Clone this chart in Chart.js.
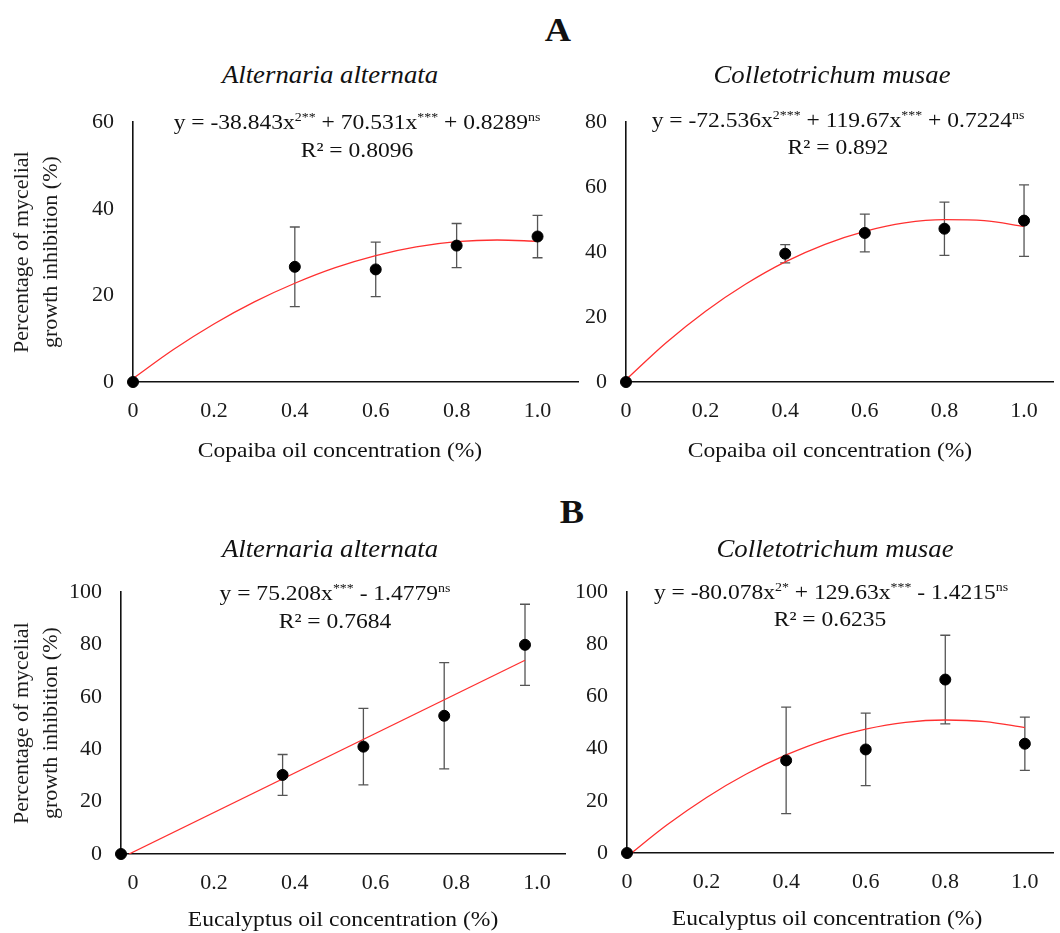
<!DOCTYPE html>
<html>
<head>
<meta charset="utf-8">
<script src="https://cdn.jsdelivr.net/npm/chart.js@4.4.1/dist/chart.umd.min.js"></script>
<style>
body { margin: 0; background: #fff; }
#page { position: relative; width: 1060px; height: 933px; overflow: hidden; font-family: "Liberation Serif", "Times New Roman", serif; color: #111; }
canvas { position: absolute; }
.lbl { position: absolute; white-space: nowrap; transform: translate(-50%, -50%) scaleX(1.07); }
.big { font-size: 34px; font-weight: bold; }
.ttl { font-size: 25px; font-style: italic; }
.eq { font-size: 22px; }
.eq sup { font-size: 13px; vertical-align: 8px; line-height: 0; }
.xt { font-size: 22px; }
</style>
</head>
<body>
<div id="page">
  <canvas id="cA1" width="600" height="380" style="left:0px;top:90px"></canvas>
  <canvas id="cA2" width="500" height="380" style="left:560px;top:90px"></canvas>
  <canvas id="cB1" width="600" height="373" style="left:0px;top:560px"></canvas>
  <canvas id="cB2" width="500" height="373" style="left:560px;top:560px"></canvas>

  <div class="lbl big" style="left:558px;top:30px">A</div>
  <div class="lbl big" style="left:572px;top:512px">B</div>

  <div class="lbl ttl" style="left:330px;top:75px">Alternaria alternata</div>
  <div class="lbl ttl" style="left:832px;top:75px">Colletotrichum musae</div>
  <div class="lbl ttl" style="left:330px;top:549px">Alternaria alternata</div>
  <div class="lbl ttl" style="left:835px;top:549px">Colletotrichum musae</div>

  <div class="lbl eq" style="left:357px;top:122px">y = -38.843x<sup>2**</sup> + 70.531x<sup>***</sup> + 0.8289<sup>ns</sup></div>
  <div class="lbl eq" style="left:357px;top:150px">R² = 0.8096</div>
  <div class="lbl eq" style="left:838px;top:120px">y = -72.536x<sup>2***</sup> + 119.67x<sup>***</sup> + 0.7224<sup>ns</sup></div>
  <div class="lbl eq" style="left:838px;top:147px">R² = 0.892</div>
  <div class="lbl eq" style="left:335px;top:593px">y = 75.208x<sup>***</sup> - 1.4779<sup>ns</sup></div>
  <div class="lbl eq" style="left:335px;top:621px">R² = 0.7684</div>
  <div class="lbl eq" style="left:831px;top:592px">y = -80.078x<sup>2*</sup> + 129.63x<sup>***</sup> - 1.4215<sup>ns</sup></div>
  <div class="lbl eq" style="left:830px;top:619px">R² = 0.6235</div>

  <div class="lbl xt" style="left:340px;top:450px">Copaiba oil concentration (%)</div>
  <div class="lbl xt" style="left:830px;top:450px">Copaiba oil concentration (%)</div>
  <div class="lbl xt" style="left:343px;top:919px">Eucalyptus oil concentration (%)</div>
  <div class="lbl xt" style="left:827px;top:918px">Eucalyptus oil concentration (%)</div>
</div>

<script>
// concentrations (%) and where the points sit on the x axis
const conc = [0, 0.4, 0.6, 0.8, 1.0];
const concEucAlt = [-0.03, 0.37, 0.57, 0.77, 0.97]; // panel B left is drawn shifted in the original

// mean inhibition (%) and error bar half-length
const copAlt = [0, 26.6, 26.0, 31.5, 33.6];
const copAltErr = [0, 9.2, 6.3, 5.1, 4.9];
const copCol = [0, 39.5, 45.9, 47.2, 49.7];
const copColErr = [0, 2.8, 5.8, 8.2, 11.0];
const eucAlt = [0, 30.2, 41.0, 52.8, 79.9];
const eucAltErr = [0, 7.8, 14.6, 20.3, 15.5];
const eucCol = [0, 35.5, 39.7, 66.5, 41.9];
const eucColErr = [0, 20.4, 13.9, 17.0, 10.2];

// fitted curves
const fitX = [0, 0.1, 0.2, 0.3, 0.4, 0.5, 0.6, 0.7, 0.8, 0.9, 1.0];
const fitCopAlt = [0.8, 7.5, 13.4, 18.5, 22.8, 26.4, 29.2, 31.2, 32.4, 32.8, 32.5];
const fitCopCol = [0.7, 12.0, 21.8, 30.1, 37.0, 42.4, 46.4, 49.0, 50.0, 49.7, 47.9];
const fitEucAltX = [-0.01, 0.97];
const fitEucAlt = [0, 74.0];
const fitEucCol = [-1.4, 10.7, 21.3, 30.3, 37.6, 43.4, 47.5, 50.1, 51.0, 50.4, 48.1];

// tick labels
const xTicks = [0, 0.2, 0.4, 0.6, 0.8, 1.0];
const xTickText = ['0', '0.2', '0.4', '0.6', '0.8', '1.0'];
const yTicks60 = [0, 20, 40, 60];
const yTicks80 = [0, 20, 40, 60, 80];
const yTicks100 = [0, 20, 40, 60, 80, 100];
const yTitle = ['Percentage of mycelial', 'growth inhibition (%)'];

const FONT = 'Liberation Serif';

// draw the vertical error bars under the datasets
const errorBars = {
  id: 'errorBars',
  beforeDatasetsDraw(chart) {
    const ctx = chart.ctx;
    const ys = chart.scales.y;
    chart.data.datasets.forEach((ds, i) => {
      if (!ds.errors) return;
      const meta = chart.getDatasetMeta(i);
      ctx.save();
      ctx.strokeStyle = '#555';
      ctx.lineWidth = 1.3;
      meta.data.forEach((pt, j) => {
        const e = ds.errors[j];
        if (!e) return;
        const v = ds.data[j].y;
        const top = ys.getPixelForValue(v + e);
        const bot = ys.getPixelForValue(v - e);
        ctx.beginPath();
        ctx.moveTo(pt.x, top); ctx.lineTo(pt.x, bot);
        ctx.moveTo(pt.x - 5, top); ctx.lineTo(pt.x + 5, top);
        ctx.moveTo(pt.x - 5, bot); ctx.lineTo(pt.x + 5, bot);
        ctx.stroke();
      });
      ctx.restore();
    });
  }
};

function panel(id, o) {
  const ctx = document.getElementById(id).getContext('2d');
  return new Chart(ctx, {
    type: 'scatter',
    data: {
      datasets: [
        {
          data: o.px.map((x, i) => ({x: x, y: o.py[i]})),
          errors: o.err,
          backgroundColor: '#000',
          borderColor: '#000',
          pointRadius: 5.5,
          pointHoverRadius: 5.5,
          clip: false
        },
        {
          data: o.fx.map((x, i) => ({x: x, y: o.fy[i]})),
          showLine: true,
          borderColor: '#ff3030',
          borderWidth: 1.3,
          pointRadius: 0,
          tension: 0.4,
          cubicInterpolationMode: 'monotone'
        }
      ]
    },
    options: {
      responsive: false,
      animation: false,
      events: [],
      layout: { padding: { left: 0, top: 17, right: o.pr, bottom: 0 } },
      plugins: { legend: { display: false }, tooltip: { enabled: false } },
      scales: {
        x: {
          type: 'linear',
          min: o.xmin,
          max: o.xmax,
          afterBuildTicks: s => { s.ticks = xTicks.map(v => ({value: v})); },
          afterFit: s => { s.height = o.xh; },
          grid: { display: false, drawTicks: false },
          border: { display: true, color: '#111', width: 1.6 },
          ticks: {
            padding: 16,
            color: '#1a1a1a',
            font: { family: FONT, size: 22 },
            callback: (v, i) => xTickText[i]
          }
        },
        y: {
          min: 0,
          max: o.yTicks[o.yTicks.length - 1],
          afterBuildTicks: s => { s.ticks = o.yTicks.map(v => ({value: v})); },
          afterFit: s => { s.width = o.yw; },
          grid: { display: false, drawTicks: false },
          border: { display: true, color: '#111', width: 1.6 },
          ticks: {
            padding: 19,
            color: '#1a1a1a',
            font: { family: FONT, size: 22 },
            callback: v => String(v)
          },
          title: {
            display: o.showTitle,
            text: yTitle,
            color: '#1a1a1a',
            padding: { top: 8, bottom: 0 },
            font: { family: FONT, size: 22, lineHeight: 1.3 }
          }
        }
      }
    },
    plugins: [errorBars]
  });
}

panel('cA1', { px: conc, py: copAlt, err: copAltErr, fx: fitX, fy: fitCopAlt,
  xmin: 0, xmax: 1.10, yTicks: yTicks60, yw: 133, xh: 88, pr: 22, showTitle: true });
panel('cA2', { px: conc, py: copCol, err: copColErr, fx: fitX, fy: fitCopCol,
  xmin: 0, xmax: 1.074, yTicks: yTicks80, yw: 66, xh: 88, pr: 0, showTitle: false });
panel('cB1', { px: concEucAlt, py: eucAlt, err: eucAltErr, fx: fitEucAltX, fy: fitEucAlt,
  xmin: -0.03, xmax: 1.069, yTicks: yTicks100, yw: 121, xh: 79, pr: 35, showTitle: true });
panel('cB2', { px: conc, py: eucCol, err: eucColErr, fx: fitX, fy: fitEucCol,
  xmin: 0, xmax: 1.072, yTicks: yTicks100, yw: 67, xh: 80, pr: 0, showTitle: false });
</script>
</body>
</html>
